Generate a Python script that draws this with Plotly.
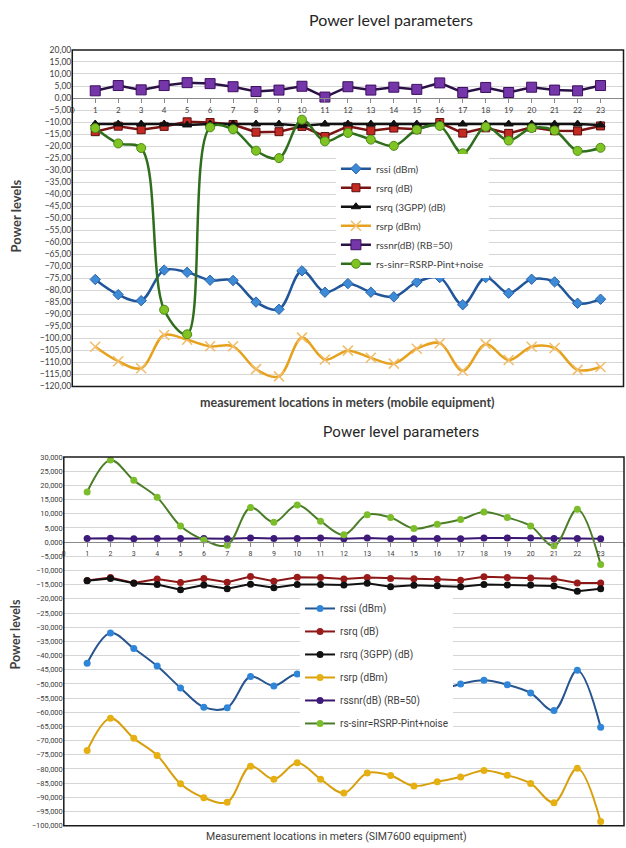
import plotly.graph_objects as go

# Measurement locations (x positions)
locations = [1, 2, 3, 4, 5, 6, 7, 8, 9, 10, 11, 12, 13, 14, 15, 16, 17, 18, 19, 20, 21, 22, 23]
x_tick_values = [0, 1, 2, 3, 4, 5, 6, 7, 8, 9, 10, 11, 12, 13, 14, 15, 16, 17, 18, 19, 20, 21, 22, 23, 24]

series_names = ["rssi (dBm)", "rsrq (dB)", "rsrq (3GPP) (dB)", "rsrp (dBm)",
                "rssnr(dB) (RB=50)", "rs-sinr=RSRP-Pint+noise"]

# Mobile equipment measurements
mob_rssi = [-75.5, -81.8, -84.3, -71.6, -72.5, -75.8, -75.9, -84.9, -87.9, -71.9, -80.8, -77.2,
            -80.8, -82.7, -76.6, -74.7, -86.0, -74.7, -81.2, -75.4, -76.5, -85.4, -83.7]
mob_rsrq = [-14.0, -11.7, -13.2, -11.8, -9.9, -10.2, -11.0, -14.2, -14.0, -11.8, -16.0, -11.8,
            -13.6, -12.5, -13.0, -10.2, -14.6, -12.4, -14.7, -12.2, -13.6, -13.7, -11.6]
mob_rsrq_3gpp = [-10.8, -10.8, -10.8, -10.8, -11.2, -10.8, -10.8, -10.8, -10.8, -11.5, -10.8, -10.8,
                 -10.8, -10.8, -10.8, -10.8, -10.8, -10.8, -10.8, -10.8, -10.8, -10.8, -11.2]
mob_rsrp = [-103.5, -109.5, -112.4, -98.6, -100.6, -103.3, -103.3, -112.8, -115.8, -99.7, -108.8, -105.1,
            -108.1, -110.5, -104.3, -102.0, -113.5, -102.4, -109.0, -103.5, -104.0, -113.1, -111.9]
mob_rssnr = [3.0, 5.2, 3.4, 5.2, 6.4, 6.0, 4.7, 2.7, 3.3, 4.9, 0.4, 4.7,
             3.3, 4.5, 3.6, 6.3, 2.3, 4.4, 2.3, 4.5, 3.3, 3.0, 5.2]
mob_sinr = [-12.5, -18.9, -20.8, -88.1, -98.3, -12.2, -13.0, -21.9, -25.0, -9.0, -18.0, -14.5,
            -17.3, -19.9, -13.2, -11.6, -23.0, -12.0, -17.7, -12.5, -13.5, -22.0, -20.7]

# SIM7600 equipment measurements
sim_rssi = [-42.7, -32.0, -37.5, -43.7, -51.4, -58.2, -58.4, -47.4, -50.7, -46.5, -52.0, -56.5,
            -50.0, -51.0, -54.5, -52.5, -50.0, -48.7, -50.3, -53.2, -59.4, -45.2, -65.3]
sim_rsrq = [-13.5, -12.5, -14.4, -13.0, -14.2, -12.8, -14.1, -12.1, -13.8, -12.4, -12.5, -13.0,
            -12.5, -12.8, -12.9, -13.1, -13.4, -12.2, -12.5, -12.6, -12.9, -14.4, -14.4]
sim_rsrq_3gpp = [-13.6, -12.8, -14.5, -14.9, -16.8, -15.1, -16.4, -14.8, -16.1, -14.9, -14.9, -15.1,
                 -14.5, -15.7, -15.2, -15.4, -15.7, -14.9, -15.1, -15.1, -15.5, -17.3, -16.4]
sim_rsrp = [-73.5, -62.1, -69.2, -75.2, -85.2, -90.1, -91.7, -79.0, -83.6, -77.8, -83.6, -88.5,
            -81.4, -82.3, -86.0, -84.5, -82.8, -80.5, -82.2, -85.1, -91.9, -79.7, -98.5]
sim_rssnr = [1.3, 1.4, 1.2, 1.3, 1.3, 1.3, 1.2, 1.5, 1.3, 1.3, 1.5, 1.2,
             1.5, 1.2, 1.2, 1.3, 1.2, 1.5, 1.5, 1.5, 1.3, 1.3, 1.2]
sim_sinr = [17.7, 29.0, 21.8, 15.8, 5.7, 0.8, -1.1, 12.2, 7.0, 13.1, 7.4, 2.6,
            9.7, 8.7, 4.8, 6.3, 8.0, 10.6, 8.7, 5.7, -1.3, 11.6, -7.9]

W, H = 626, 848
FONT = "Lato, 'Open Sans', sans-serif"
NARROW = "Roboto, 'Liberation Sans', sans-serif"


def px_x(p):
    return p / W


def px_y(p):
    return 1 - p / H


# Plot areas (paper fractions)
top_x = [px_x(70.5), px_x(623.5)]
top_y = [px_y(386), px_y(45.5)]
bot_x = [px_x(62), px_x(624)]
bot_y = [px_y(830.5), px_y(457.5)]
top_range = [-120, 20]
bot_range = [-100, 30]


def zero_position(dom, rng):
    # paper position of the value 0 inside a y domain
    return dom[0] + (dom[1] - dom[0]) * (0 - rng[0]) / (rng[1] - rng[0])


fig = go.Figure()

# ---- upper chart: mobile equipment ----
top_styles = [
    dict(y=mob_rssi, shape="spline", line="#22569a", symbol="diamond", mcolor="#3d8ad6", mline="#2a63a8", size=8),
    dict(y=mob_rsrq, shape="linear", line="#7a1414", symbol="square", mcolor="#c42a22", mline="#5a0f0f", size=8),
    dict(y=mob_rsrq_3gpp, shape="linear", line="#111111", symbol="triangle-up", mcolor="#111111", mline="#111111", size=8),
    dict(y=mob_rsrp, shape="spline", line="#e6a21e", symbol="x-thin", mcolor="#f2bd6a", mline="#f2bd6a", size=10),
    dict(y=mob_rssnr, shape="linear", line="#2b1245", symbol="square", mcolor="#7436a8", mline="#3d1060", size=10),
    dict(y=mob_sinr, shape="spline", line="#2f6e1c", symbol="circle", mcolor="#80c423", mline="#4c8a14", size=9),
]
for name, s in zip(series_names, top_styles):
    fig.add_trace(go.Scatter(
        x=locations, y=s["y"], name=name, mode="lines+markers",
        xaxis="x", yaxis="y", legend="legend",
        line=dict(color=s["line"], width=2.5, shape=s["shape"], smoothing=1.0),
        marker=dict(symbol=s["symbol"], size=s["size"], color=s["mcolor"],
                    line=dict(color=s["mline"], width=1.5 if s["symbol"] == "x-thin" else 1)),
    ))

# ---- lower chart: SIM7600 equipment ----
bot_styles = [
    dict(y=sim_rssi, shape="spline", line="#27558f", mcolor="#2f86d8"),
    dict(y=sim_rsrq, shape="linear", line="#8a1616", mcolor="#9a1a1a"),
    dict(y=sim_rsrq_3gpp, shape="linear", line="#111111", mcolor="#111111"),
    dict(y=sim_rsrp, shape="spline", line="#d9a00e", mcolor="#e6b012"),
    dict(y=sim_rssnr, shape="linear", line="#3a1670", mcolor="#3e1a7a"),
    dict(y=sim_sinr, shape="spline", line="#4b7d28", mcolor="#7cbd2c"),
]
for i, (name, s) in enumerate(zip(series_names, bot_styles)):
    fig.add_trace(go.Scatter(
        x=locations, y=s["y"], name=name, mode="lines+markers",
        xaxis="x2", yaxis="y2", legend="legend2", legendgroup=f"sim{i}",
        line=dict(color=s["line"], width=2, shape=s["shape"], smoothing=1.0),
        marker=dict(symbol="circle", size=7, color=s["mcolor"]),
    ))

# Category axes sit on the zero line of each chart
cat_axis = dict(range=[0, 24], tickvals=x_tick_values, ticks="outside", ticklen=4,
                tickcolor="#8a8a8a", showline=True, linecolor="#8a8a8a", linewidth=1,
                showgrid=False, zeroline=False, side="bottom", anchor="free")
yaxis_common = dict(dtick=5, gridcolor="#d6d6d6", gridwidth=1, zeroline=False,
                    showline=False, ticks="")

fig.update_layout(
    width=W, height=H,
    margin=dict(l=0, r=0, t=0, b=0),
    paper_bgcolor="white", plot_bgcolor="white",
    separators=",.",
    font=dict(family=FONT, color="#404040"),
    showlegend=True,
    xaxis=dict(domain=top_x, position=zero_position(top_y, top_range),
               tickfont=dict(size=8, color="#404040", family=FONT), **cat_axis),
    yaxis=dict(domain=top_y, range=top_range, anchor="x", tickformat=".2f",
               tickfont=dict(size=8.5, color="#404040", family=FONT), **yaxis_common),
    xaxis2=dict(domain=bot_x, position=zero_position(bot_y, bot_range),
                tickfont=dict(size=7, color="#404040", family=NARROW), **cat_axis),
    yaxis2=dict(domain=bot_y, range=bot_range, anchor="x2", tickformat=".3f",
                tickfont=dict(size=7.5, color="#404040", family=NARROW), **yaxis_common),
    legend=dict(x=px_x(335), y=px_y(151), xanchor="left", yanchor="top",
                bgcolor="white", borderwidth=0, font=dict(size=10, color="#404040", family=FONT),
                itemwidth=30),
    legend2=dict(x=px_x(299), y=px_y(596), xanchor="left", yanchor="top",
                 bgcolor="white", borderwidth=0, tracegroupgap=4,
                 font=dict(size=10, color="#404040", family=NARROW), itemwidth=30),
)

# Plot-area frames
for xr, yr in (("x", "y"), ("x2", "y2")):
    fig.add_shape(type="rect", xref=f"{xr} domain", yref=f"{yr} domain", x0=0, x1=1, y0=0, y1=1,
                  line=dict(color="#1a1a1a", width=1.5), fillcolor="rgba(0,0,0,0)", layer="above")


def label(text, x, y, size, family, color="#404040", angle=0, weight="normal"):
    fig.add_annotation(text=text, x=px_x(x), y=px_y(y), xref="paper", yref="paper",
                       xanchor="center", yanchor="middle", textangle=angle, showarrow=False,
                       font=dict(size=size, color=color, family=family, weight=weight))


# Chart titles and axis titles
label("Power level parameters", 390, 15, 16, FONT, color="#262626")
label("measurement locations in meters (mobile equipment)", 347, 402, 12.5, FONT, weight="bold")
label("Power levels", 15, 213, 13, FONT, angle=-90, weight="bold")

label("Power level parameters", 400, 432, 15, NARROW, color="#262626")
label("Measurement locations in meters (SIM7600 equipment)", 336, 841, 10.5, NARROW)
label("Power levels", 14, 637, 12.5, FONT, angle=-90, weight="bold")

fig.write_html("out.html")
